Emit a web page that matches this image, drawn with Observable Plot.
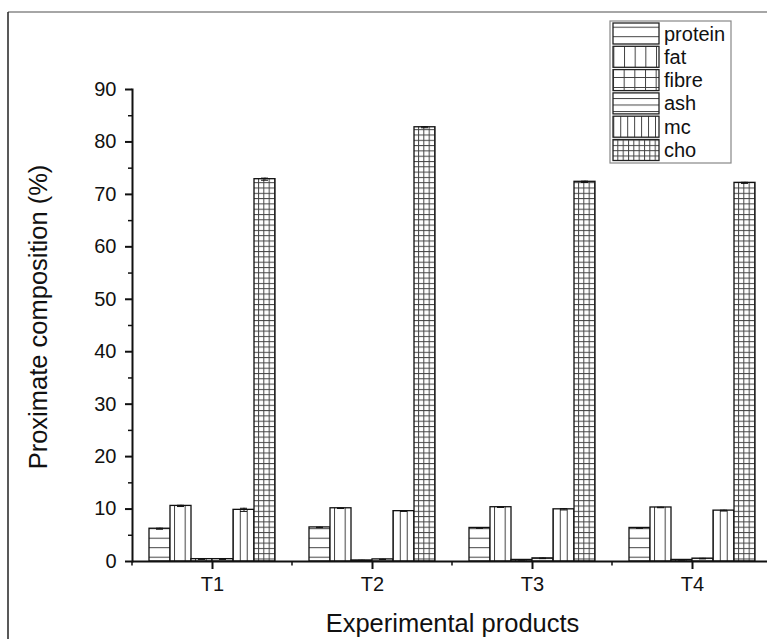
<!DOCTYPE html>
<html>
<head>
<meta charset="utf-8">
<script src="https://cdn.jsdelivr.net/npm/d3@7"></script>
<script src="https://cdn.jsdelivr.net/npm/@observablehq/plot@0.6"></script>
<style>
  html, body { margin: 0; padding: 0; background: #fff; width: 767px; height: 639px; overflow: hidden; }
  #chart { position: relative; width: 767px; height: 639px; overflow: hidden; }
  #chart svg { position: absolute; left: 0; top: 0; max-width: none !important; }
  [aria-label="fx-axis label"] { font-size: 25.5px; }
</style>
</head>
<body>
<div id="chart"></div>
<script>
// ---- data ----
const cats = ["T1", "T2", "T3", "T4"];
const series = ["protein", "fat", "fibre", "ash", "mc", "cho"];
const protein = [6.25, 6.5, 6.4, 6.4];
const fat     = [10.6, 10.15, 10.35, 10.3];
const fibre   = [0.45, 0.2, 0.3, 0.3];
const ash     = [0.45, 0.4, 0.6, 0.55];
const mc      = [9.85, 9.6, 9.95, 9.7];
const cho     = [72.9, 82.8, 72.4, 72.2];
const proteinErr = [0.1, 0.05, 0.08, 0.08];
const fatErr     = [0.12, 0.05, 0.05, 0.05];
const fibreErr   = [0.05, 0.03, 0.03, 0.03];
const ashErr     = [0.05, 0.03, 0.05, 0.05];
const mcErr      = [0.3, 0.05, 0.12, 0.08];
const choErr     = [0.2, 0.1, 0.12, 0.1];
const yMajorTicks = [0, 10, 20, 30, 40, 50, 60, 70, 80, 90];
const yMinorTicks = [5, 15, 25, 35, 45, 55, 65, 75, 85];
const yTitle = "Proximate composition (%)";
const xTitle = "Experimental products";

const values = {protein, fat, fibre, ash, mc, cho};
const errs = {protein: proteinErr, fat: fatErr, fibre: fibreErr, ash: ashErr, mc: mcErr, cho: choErr};
const data = cats.flatMap((c, i) => series.map(s => ({cat: c, series: s, value: values[s][i], err: errs[s][i]})));

const chart = Plot.plot({
  width: 772,
  height: 639,
  marginLeft: 132,
  marginRight: 0,
  marginTop: 89,
  marginBottom: 78,
  style: {fontFamily: "'Liberation Sans', Arial, sans-serif", fontSize: "20px", color: "#111", background: "transparent", maxWidth: "none"},
  fx: {domain: cats, padding: 0, label: xTitle},
  x: {domain: series, paddingInner: 0, paddingOuter: 0.704, axis: null},
  y: {domain: [0, 90]},
  color: {type: "ordinal", domain: series, range: series.map(s => `url(#pat-${s})`)},
  marks: [
    Plot.barY(data, {fx: "cat", x: "series", y: "value", fill: "series", stroke: "#111", strokeWidth: 1.3}),
    Plot.ruleX(data, {fx: "cat", x: "series", y1: d => d.value - d.err, y2: d => d.value + d.err, stroke: "#111", strokeWidth: 1}),
    Plot.tickY(data, {fx: "cat", x: "series", y: d => d.value + d.err, insetLeft: 7, insetRight: 7, stroke: "#111", strokeWidth: 1}),
    Plot.tickY(data, {fx: "cat", x: "series", y: d => d.value - d.err, insetLeft: 7, insetRight: 7, stroke: "#111", strokeWidth: 1}),
    Plot.ruleY([0], {stroke: "#111", strokeWidth: 2}),
    Plot.axisY({ticks: yMajorTicks, tickSize: 7, tickPadding: 9, strokeWidth: 2, label: null}),
    Plot.axisY({ticks: yMinorTicks, tickSize: 4, tickFormat: () => "", label: null, strokeWidth: 1.5}),
    Plot.text([yTitle], {frameAnchor: "left", facetAnchor: "left", textAnchor: "middle", lineAnchor: "middle", rotate: -90, dx: -94, dy: -8.5, fontSize: 25.5, fill: "#111"}),
    Plot.axisFx({anchor: "bottom", tickSize: 8, tickPadding: 7, strokeWidth: 2, label: xTitle, labelAnchor: "center", labelArrow: false, labelOffset: 70}),
    Plot.frame({anchor: "left", facetAnchor: "left", stroke: "#111", strokeWidth: 2})
  ]
});
document.getElementById("chart").appendChild(chart);

// ---- hatch patterns, aligned to bar positions via Plot's scales ----
const svg = d3.select(chart);
const fxS = chart.scale("fx"), xS = chart.scale("x"), yS = chart.scale("y");
const barX = s => fxS.apply(cats[0]) + xS.apply(s);
const y0 = yS.apply(0);
const step = fxS.step || 160;
const defs = svg.insert("defs", ":first-child");
const lineCol = "#444";
function pat(s, w, h, vert, horiz, yOff) {
  const p = defs.append("pattern").attr("id", `pat-${s}`).attr("patternUnits", "userSpaceOnUse")
    .attr("x", barX(s)).attr("y", y0 - (yOff || 0)).attr("width", w).attr("height", h);
  p.append("rect").attr("width", w).attr("height", h).attr("fill", "#fff");
  if (vert) p.append("line").attr("x1", 0.5).attr("x2", 0.5).attr("y1", 0).attr("y2", h).attr("stroke", lineCol).attr("stroke-width", 1);
  if (horiz) p.append("line").attr("x1", 0).attr("x2", w).attr("y1", 0.5).attr("y2", 0.5).attr("stroke", lineCol).attr("stroke-width", 1);
}
pat("protein", 20, 9.5, false, true, 4.3);
pat("fat", step / 15, 20, true, false);
pat("fibre", step / 15, 10, true, true, 5);
pat("ash", 20, 6.5, false, true, 3);
pat("mc", step / 23, 20, true, false);
pat("cho", step / 30, 5.3, true, true, 2.5);

// ---- minor x ticks at category boundaries (from the fx scale) ----
cats.forEach(c => {
  const bx = fxS.apply(c);
  svg.append("line").attr("x1", bx).attr("x2", bx).attr("y1", y0).attr("y2", y0 + 4.5)
    .attr("stroke", "#111").attr("stroke-width", 1.5);
});

// ---- legend ----
const lg = svg.append("g").attr("transform", "translate(610,21)");
lg.append("rect").attr("width", 121).attr("height", 142).attr("fill", "#fff").attr("stroke", "#888").attr("stroke-width", 1.2);
series.forEach((s, i) => {
  const ry = 2 + i * 23.3;
  lg.append("rect").attr("x", 3).attr("y", ry).attr("width", 46).attr("height", 21)
    .attr("fill", `url(#pat-${s})`).attr("stroke", "#222").attr("stroke-width", 1.3);
  lg.append("text").attr("x", 54).attr("y", ry + 10.5).attr("dy", "0.35em").attr("text-anchor", "start")
    .attr("font-size", 20).attr("fill", "#111").text(s);
});

// ---- outer figure border ----
svg.append("line").attr("x1", 8).attr("x2", 772).attr("y1", 12).attr("y2", 12).attr("stroke", "#888").attr("stroke-width", 1.5);
svg.append("line").attr("x1", 8).attr("x2", 8).attr("y1", 12).attr("y2", 639).attr("stroke", "#222").attr("stroke-width", 1.5);
</script>
</body>
</html>
